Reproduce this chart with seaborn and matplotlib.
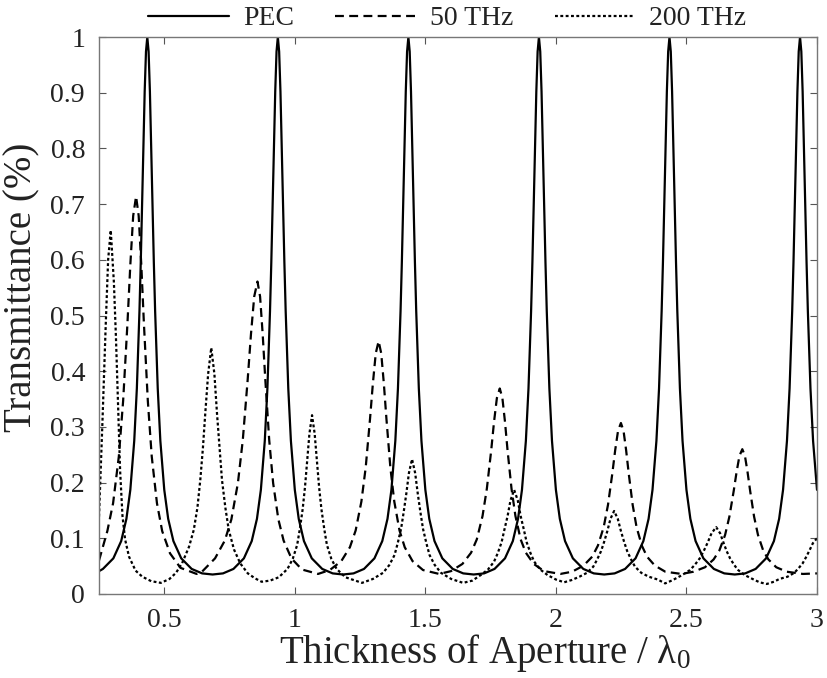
import seaborn as sns
import matplotlib
matplotlib.use("Agg")
import matplotlib.pyplot as plt
from matplotlib.ticker import FuncFormatter

# values
pec_x = [0.25, 0.265, 0.305, 0.335, 0.355, 0.37, 0.385, 0.395, 0.405, 0.41, 0.415, 0.42, 0.425, 0.43,
         0.435, 0.44, 0.445, 0.45, 0.455, 0.46, 0.465, 0.475, 0.485, 0.5, 0.515, 0.535, 0.565, 0.605, 0.645, 0.685,
         0.725, 0.765, 0.805, 0.835, 0.855, 0.87, 0.885, 0.895, 0.905, 0.91, 0.915, 0.92, 0.925, 0.93,
         0.935, 0.94, 0.945, 0.95, 0.955, 0.96, 0.965, 0.975, 0.985, 1.0, 1.015, 1.035, 1.065, 1.105, 1.145, 1.185,
         1.225, 1.265, 1.305, 1.335, 1.355, 1.37, 1.385, 1.395, 1.405, 1.41, 1.415, 1.42, 1.425, 1.43,
         1.435, 1.44, 1.445, 1.45, 1.455, 1.46, 1.465, 1.475, 1.485, 1.5, 1.515, 1.535, 1.565, 1.605, 1.645, 1.685,
         1.725, 1.765, 1.805, 1.835, 1.855, 1.87, 1.885, 1.895, 1.905, 1.91, 1.915, 1.92, 1.925, 1.93,
         1.935, 1.94, 1.945, 1.95, 1.955, 1.96, 1.965, 1.975, 1.985, 2.0, 2.015, 2.035, 2.065, 2.105, 2.145, 2.185,
         2.225, 2.265, 2.305, 2.335, 2.355, 2.37, 2.385, 2.395, 2.405, 2.41, 2.415, 2.42, 2.425, 2.43,
         2.435, 2.44, 2.445, 2.45, 2.455, 2.46, 2.465, 2.475, 2.485, 2.5, 2.515, 2.535, 2.565, 2.605, 2.645, 2.685,
         2.725, 2.765, 2.805, 2.835, 2.855, 2.87, 2.885, 2.895, 2.905, 2.91, 2.915, 2.92, 2.925, 2.93,
         2.935, 2.94, 2.945, 2.95, 2.955, 2.96, 2.965, 2.975, 2.985, 3.0]
pec_y = [0.041, 0.045, 0.064, 0.095, 0.135, 0.187, 0.275, 0.369, 0.508, 0.596, 0.698, 0.804, 0.902, 0.974,
         1.0, 0.974, 0.902, 0.804, 0.698, 0.596, 0.508, 0.369, 0.275, 0.187, 0.135, 0.095, 0.064, 0.045, 0.037, 0.035,
         0.037, 0.045, 0.064, 0.095, 0.135, 0.187, 0.275, 0.369, 0.508, 0.596, 0.698, 0.804, 0.902, 0.974,
         1.0, 0.974, 0.902, 0.804, 0.698, 0.596, 0.508, 0.369, 0.275, 0.187, 0.135, 0.095, 0.064, 0.045, 0.037, 0.035,
         0.037, 0.045, 0.064, 0.095, 0.135, 0.187, 0.275, 0.369, 0.508, 0.596, 0.698, 0.804, 0.902, 0.974,
         1.0, 0.974, 0.902, 0.804, 0.698, 0.596, 0.508, 0.369, 0.275, 0.187, 0.135, 0.095, 0.064, 0.045, 0.037, 0.035,
         0.037, 0.045, 0.064, 0.095, 0.135, 0.187, 0.275, 0.369, 0.508, 0.596, 0.698, 0.804, 0.902, 0.974,
         1.0, 0.974, 0.902, 0.804, 0.698, 0.596, 0.508, 0.369, 0.275, 0.187, 0.135, 0.095, 0.064, 0.045, 0.037, 0.035,
         0.037, 0.045, 0.064, 0.095, 0.135, 0.187, 0.275, 0.369, 0.508, 0.596, 0.698, 0.804, 0.902, 0.974,
         1.0, 0.974, 0.902, 0.804, 0.698, 0.596, 0.508, 0.369, 0.275, 0.187, 0.135, 0.095, 0.064, 0.045, 0.037, 0.035,
         0.037, 0.045, 0.064, 0.095, 0.135, 0.187, 0.275, 0.369, 0.508, 0.596, 0.698, 0.804, 0.902, 0.974,
         1.0, 0.974, 0.902, 0.804, 0.698, 0.596, 0.508, 0.369, 0.275, 0.187]

thz50_x = [0.25, 0.282, 0.304, 0.326, 0.3425, 0.359, 0.37, 0.381, 0.392, 0.402, 0.412, 0.422, 0.437, 0.452,
           0.472, 0.492, 0.522, 0.562, 0.624,
           0.6445, 0.6945, 0.732, 0.757, 0.782, 0.8007, 0.8195, 0.832, 0.8445, 0.857, 0.867, 0.877, 0.887,
           0.902, 0.917, 0.937, 0.957, 0.987, 1.027, 1.089,
           1.134, 1.178, 1.211, 1.233, 1.255, 1.2715, 1.288, 1.299, 1.31, 1.321, 1.331, 1.341, 1.351,
           1.366, 1.381, 1.401, 1.421, 1.451, 1.491, 1.553,
           1.598, 1.642, 1.675, 1.697, 1.719, 1.7355, 1.752, 1.763, 1.774, 1.785, 1.795, 1.805, 1.815,
           1.83, 1.845, 1.865, 1.885, 1.915, 1.955, 2.017,
           2.062, 2.106, 2.139, 2.161, 2.183, 2.1995, 2.216, 2.227, 2.238, 2.249, 2.259, 2.269, 2.279,
           2.294, 2.309, 2.329, 2.349, 2.379, 2.419, 2.481,
           2.527, 2.571, 2.604, 2.626, 2.648, 2.6645, 2.681, 2.692, 2.703, 2.714, 2.724, 2.734, 2.744,
           2.759, 2.774, 2.794, 2.814, 2.844, 2.884, 2.946, 3.0]
thz50_y = [0.06, 0.113, 0.163, 0.247, 0.347, 0.486, 0.591, 0.679, 0.714, 0.679, 0.591, 0.486, 0.347, 0.247,
           0.163, 0.113, 0.073, 0.047, 0.036,
           0.040, 0.064, 0.096, 0.134, 0.199, 0.276, 0.385, 0.466, 0.534, 0.561, 0.534, 0.466, 0.385,
           0.276, 0.199, 0.134, 0.096, 0.064, 0.044, 0.036,
           0.043, 0.059, 0.084, 0.114, 0.166, 0.227, 0.314, 0.378, 0.432, 0.454, 0.432, 0.378, 0.314,
           0.227, 0.166, 0.114, 0.084, 0.059, 0.043, 0.036,
           0.041, 0.054, 0.074, 0.098, 0.140, 0.189, 0.257, 0.309, 0.352, 0.369, 0.352, 0.309, 0.257,
           0.189, 0.140, 0.098, 0.074, 0.054, 0.041, 0.036,
           0.040, 0.051, 0.067, 0.087, 0.120, 0.160, 0.216, 0.258, 0.293, 0.307, 0.293, 0.258, 0.216,
           0.160, 0.120, 0.087, 0.067, 0.051, 0.040, 0.036,
           0.040, 0.048, 0.062, 0.078, 0.106, 0.139, 0.185, 0.219, 0.248, 0.26, 0.248, 0.219, 0.185,
           0.139, 0.106, 0.078, 0.062, 0.048, 0.040, 0.036, 0.037]

thz200_x = [0.25, 0.263, 0.276, 0.285, 0.295, 0.307, 0.315, 0.323, 0.331, 0.34, 0.35, 0.365, 0.39, 0.416,
            0.45, 0.487,
            0.52, 0.545, 0.568, 0.595, 0.613, 0.627, 0.638, 0.648, 0.657, 0.668, 0.68, 0.692, 0.702, 0.712,
            0.721, 0.734, 0.747, 0.767, 0.791, 0.82, 0.848, 0.873,
            0.905, 0.9385, 0.972, 0.992, 1.009, 1.019, 1.03, 1.039, 1.047, 1.056, 1.066, 1.076, 1.085, 1.093,
            1.102, 1.113, 1.123, 1.14, 1.16, 1.194, 1.2575,
            1.299, 1.338, 1.362, 1.382, 1.394, 1.407, 1.417, 1.427, 1.437, 1.449, 1.461, 1.471, 1.481,
            1.491, 1.504, 1.516, 1.536, 1.56, 1.599, 1.6445,
            1.68, 1.712, 1.74, 1.763, 1.777, 1.792, 1.803, 1.815, 1.826, 1.84, 1.854, 1.865, 1.877,
            1.888, 1.903, 1.917, 1.94, 1.968, 2.0, 2.0315,
            2.06, 2.09, 2.119, 2.143, 2.157, 2.173, 2.185, 2.197, 2.209, 2.223, 2.237, 2.249, 2.261,
            2.273, 2.289, 2.303, 2.327, 2.356, 2.39, 2.4185,
            2.4475, 2.4835, 2.5135, 2.5315, 2.551, 2.566, 2.581, 2.596, 2.614, 2.629, 2.642, 2.654, 2.667,
            2.683, 2.698, 2.723, 2.753, 2.78, 2.8075,
            2.835, 2.856, 2.887, 2.913, 2.929, 2.945, 2.958, 2.971, 2.984, 3.0]
thz200_y = [0.139, 0.306, 0.486, 0.60, 0.653, 0.56, 0.46, 0.34, 0.22, 0.14, 0.098, 0.067, 0.042, 0.031,
            0.023, 0.02,
            0.027, 0.038, 0.055, 0.085, 0.115, 0.155, 0.205, 0.262, 0.324, 0.395, 0.442, 0.395, 0.324, 0.262,
            0.205, 0.155, 0.115, 0.08, 0.055, 0.037, 0.028, 0.022,
            0.024, 0.030, 0.045, 0.063, 0.088, 0.116, 0.152, 0.192, 0.237, 0.288, 0.321, 0.288, 0.237, 0.192,
            0.152, 0.116, 0.088, 0.063, 0.045, 0.030, 0.02,
            0.027, 0.038, 0.052, 0.070, 0.091, 0.117, 0.147, 0.180, 0.217, 0.242, 0.217, 0.180, 0.147,
            0.117, 0.091, 0.070, 0.052, 0.038, 0.027, 0.02,
            0.024, 0.034, 0.044, 0.058, 0.073, 0.093, 0.116, 0.140, 0.168, 0.187, 0.168, 0.140, 0.116,
            0.093, 0.073, 0.058, 0.044, 0.034, 0.026, 0.021,
            0.025, 0.031, 0.038, 0.049, 0.061, 0.077, 0.094, 0.113, 0.135, 0.149, 0.135, 0.113, 0.094,
            0.077, 0.061, 0.049, 0.038, 0.031, 0.026, 0.019,
            0.025, 0.034, 0.043, 0.052, 0.064, 0.077, 0.092, 0.109, 0.12, 0.109, 0.092, 0.077, 0.064,
            0.052, 0.043, 0.034, 0.027, 0.021, 0.018,
            0.022, 0.027, 0.031, 0.038, 0.046, 0.055, 0.066, 0.078, 0.091, 0.10]

labels = ["PEC", "50 THz", "200 THz"]
x_ticks = [0.5, 1, 1.5, 2, 2.5, 3]
y_ticks = [0, 0.1, 0.2, 0.3, 0.4, 0.5, 0.6, 0.7, 0.8, 0.9, 1]

sns.set_style("ticks")
plt.rcParams['font.family'] = ['Liberation Serif', 'DejaVu Serif']
plt.rcParams['mathtext.fontset'] = 'custom'
plt.rcParams['mathtext.rm'] = 'Liberation Serif'
plt.rcParams['mathtext.default'] = 'regular'

fig = plt.figure(figsize=(8.27, 6.78), dpi=100)
ax = fig.add_axes([0.1197, 0.1239, 0.8682, 0.8215])

sns.lineplot(x=pec_x, y=pec_y, ax=ax, color='black', lw=1.6, estimator=None, sort=False, label=labels[0])
sns.lineplot(x=thz50_x, y=thz50_y, ax=ax, color='black', lw=1.6, estimator=None, sort=False, label=labels[1])
sns.lineplot(x=thz200_x, y=thz200_y, ax=ax, color='black', lw=1.6, estimator=None, sort=False, label=labels[2])
ax.lines[1].set_dashes([4, 2.4])
ax.lines[2].set_dashes([1.3, 1.1])

ax.set_xlim(0.25, 3)
ax.set_ylim(0, 1)
ax.set_xticks(x_ticks)
ax.set_yticks(y_ticks)
fmt = FuncFormatter(lambda v, p: f"{v:g}")
ax.xaxis.set_major_formatter(fmt)
ax.yaxis.set_major_formatter(fmt)
ax.tick_params(direction='in', length=5, width=0.8, top=True, right=True,
               labelsize=20, colors='#555555', labelcolor='#222222', pad=10)
for s in ax.spines.values():
    s.set_visible(True)
    s.set_color('#777777')
    s.set_linewidth(1.0)

ax.set_xlabel("Thickness of Aperture / λ$_0$", fontsize=28, color='#222222')
ax.set_ylabel("Transmittance (%)", fontsize=28, color='#222222')
ax.xaxis.set_label_coords(0.537, -0.068)
ax.yaxis.set_label_coords(-0.082, 0.55)

leg = ax.legend(loc='lower center', bbox_to_anchor=(0.485, 0.99), ncol=3, frameon=False,
                fontsize=20, handlelength=2.9, columnspacing=1.5, handletextpad=0.5, borderaxespad=0.0)
for t in leg.get_texts():
    t.set_color('#222222')

fig.savefig("out.png", dpi=100)
